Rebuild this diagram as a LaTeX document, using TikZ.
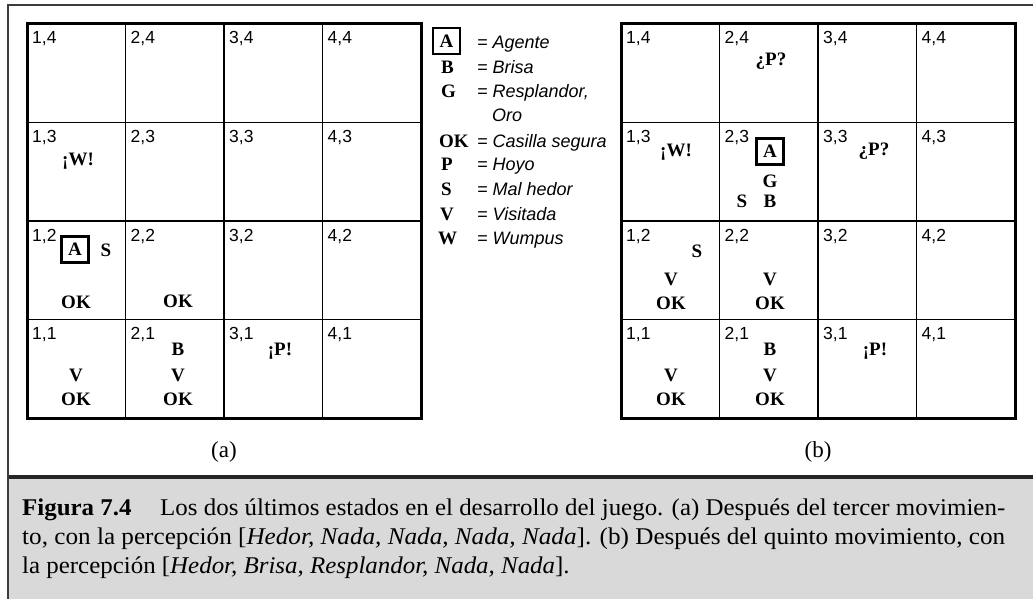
\documentclass[tikz,border=0pt]{standalone}
\usepackage{fontspec}
\usepackage{graphicx}
\setmainfont{Liberation Serif}
\newfontfamily\lsans{Liberation Sans}
\definecolor{capgray}{RGB}{217,217,217}
\definecolor{framegray}{RGB}{60,60,60}
\newsavebox\caplineone
\newcommand\capfirst{\textbf{Figura 7.4}\hspace{0.9em} Los dos últimos estados en el desarrollo del juego. (a) Después del tercer movimien-}
\begin{document}
\begin{tikzpicture}[x=1pt,y=-1pt,
  lbl/.style={anchor=base west,inner sep=0pt,font=\lsans\fontsize{17.5}{17.5}\selectfont},
  mk/.style={anchor=base,inner sep=0pt,font=\fontsize{19}{19}\selectfont\bfseries},
  agent/.style={draw,line width=2.2pt,minimum width=27pt,minimum height=26pt,inner sep=0pt,font=\fontsize{19}{19}\selectfont\bfseries},
  legsym/.style={anchor=base west,inner sep=0pt,font=\fontsize{19}{19}\selectfont\bfseries},
  legtxt/.style={anchor=base west,inner sep=0pt,font=\lsans\fontsize{18}{18}\selectfont\itshape},
  sub/.style={anchor=base,inner sep=0pt,font=\fontsize{23}{23}\selectfont},
  capline/.style={anchor=base west,inner sep=0pt,font=\fontsize{24}{24}\selectfont},
  thin/.style={line width=1.3pt},
  thick/.style={line width=3pt},
  frame/.style={line width=1.5pt,draw=framegray}
]
\useasboundingbox (0,0) rectangle (1033,599);
% caption background and frame
\fill[capgray] (8,479) rectangle (1033,599);
\draw[line width=3.5pt,draw=black!85] (8,477) -- (1033,477);
\draw[frame] (1033,5) -- (8,5) -- (8,599);
% grids
\foreach \gx/\g in {27/a,621/b}{
  \foreach \i in {1,2,3}{
    \draw[thin] ({\gx+\i*98.5},24) -- ({\gx+\i*98.5},418);
    \draw[thin] (\gx,{24+\i*98.5}) -- ({\gx+394},{24+\i*98.5});
  }
  \draw[thick] (\gx,24) rectangle ({\gx+394},418);
  \foreach \c in {1,2,3,4}{
    \foreach \r in {1,2,3,4}{
      \node[lbl] (\g\c\r) at ({\gx+(\c-1)*98.5+5},{24+(4-\r)*98.5+20}) {\c,\r};
    }
  }
}
% grid (a) contents
\node[mk] (aW) at (78,165) {¡W!};
\node[agent] (aA) at (75,249.5) {A};
\node[mk] (aS12) at (106,256) {S};
\node[mk] (aOK12) at (76,308) {OK};
\node[mk] (aOK22) at (178,307) {OK};
\node[mk] (aV11) at (76,381) {V};
\node[mk] (aOK11) at (76,405) {OK};
\node[mk] (aB21) at (178,355) {B};
\node[mk] (aV21) at (178,381) {V};
\node[mk] (aOK21) at (178,405) {OK};
\node[mk] (aP31) at (280,355) {¡P!};
% grid (b) contents
\node[mk] (bP24) at (771,66) {¿P?};
\node[mk] (bW) at (676,157) {¡W!};
\node[agent] (bA) at (770,151.5) {A};
\node[mk] (bG) at (770,187) {G};
\node[mk] (bS23) at (742,207) {S};
\node[mk] (bB23) at (770,207) {B};
\node[mk] (bP33) at (874,155) {¿P?};
\node[mk] (bS12) at (697,257) {S};
\node[mk] (bV12) at (671,285) {V};
\node[mk] (bOK12) at (671,309) {OK};
\node[mk] (bV22) at (770,285) {V};
\node[mk] (bOK22) at (770,309) {OK};
\node[mk] (bV11) at (671,381) {V};
\node[mk] (bOK11) at (671,405) {OK};
\node[mk] (bB21) at (770,355) {B};
\node[mk] (bV21) at (770,381) {V};
\node[mk] (bOK21) at (770,405) {OK};
\node[mk] (bP31) at (875,355) {¡P!};
% legend
\node[agent] (lA) at (446.5,41) {A};
\node[legtxt] (tA) at (477,49) {= Agente};
\node[legsym] (lB) at (441,74) {B};
\node[legtxt] (tB) at (477,74) {= Brisa};
\node[legsym] (lG) at (441,98) {G};
\node[legtxt] (tG) at (477,98) {= Resplandor,};
\node[legtxt] (tG2) at (492,122) {Oro};
\node[legsym] (lOK) at (439,147) {OK};
\node[legtxt] (tOK) at (477,147) {= Casilla segura};
\node[legsym] (lP) at (441,171) {P};
\node[legtxt] (tP) at (477,171) {= Hoyo};
\node[legsym] (lS) at (441,195) {S};
\node[legtxt] (tS) at (477,195) {= Mal hedor};
\node[legsym] (lV) at (440,220) {V};
\node[legtxt] (tV) at (477,220) {= Visitada};
\node[legsym] (lW) at (438,244) {W};
\node[legtxt] (tW) at (477,244) {= Wumpus};
% sub-captions
\node[sub] (suba) at (224,457) {(a)};
\node[sub] (subb) at (818,457) {(b)};
% caption
\node[capline] (cap1) at (22,515) {\resizebox{983pt}{\height}{\capfirst}};
\node[capline] (cap2) at (22,544) {\resizebox{983pt}{\height}{to, con la percepción [\textit{Hedor, Nada, Nada, Nada, Nada}]. (b) Después del quinto movimiento, con}};
\node[capline] (cap3) at (22,573) {\sbox\caplineone{\capfirst}\pgfmathsetmacro\capscale{983/\wd\caplineone}\scalebox{\capscale}[1]{la percepción [\textit{Hedor, Brisa, Resplandor, Nada, Nada}].}};
\end{tikzpicture}
\end{document}
